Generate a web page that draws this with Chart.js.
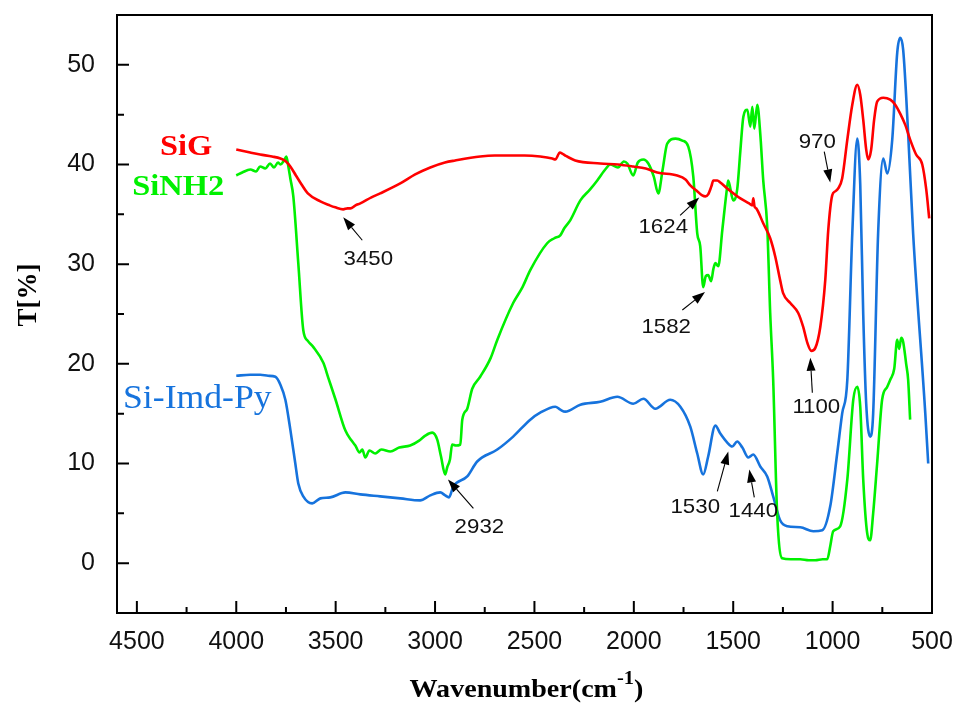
<!DOCTYPE html>
<html>
<head>
<meta charset="utf-8">
<title>FTIR spectra</title>
<script src="https://cdn.jsdelivr.net/npm/chart.js@4.4.1/dist/chart.umd.min.js"></script>
<style>
  html, body { margin: 0; padding: 0; background: #fff; }
  canvas { display: block; }
</style>
</head>
<body>
<canvas id="ftir" width="957" height="706"></canvas>
<script>
// --- Spectra (wavenumber in cm-1, transmittance in %) ---
const sigWave = [4000, 3930, 3880, 3820, 3778, 3750, 3728, 3700, 3678, 3640, 3577, 3530, 3502, 3462, 3440, 3426, 3400, 3376, 3320, 3276,
  3175, 3100, 3024, 2950, 2899, 2773, 2700, 2622, 2550, 2471, 2410, 2395, 2372, 2360, 2345, 2295, 2169, 2080, 2003, 1940, 1882, 1782,
  1740, 1716, 1680, 1656, 1640, 1626, 1610, 1600, 1580, 1565, 1530, 1464, 1420, 1404, 1399, 1393, 1384, 1349, 1314, 1289, 1264, 1249,
  1213, 1173, 1148, 1127, 1107, 1087, 1062, 1037, 1022, 1002, 987, 972, 952, 926, 901, 876, 861, 846, 831, 821, 806, 791, 776, 745,
  710, 685, 660, 635, 610, 580, 549, 529, 514];
const sigT = [41.5, 41.2, 41.0, 40.8, 40.6, 40.3, 39.8, 38.9, 38.2, 37.1, 36.3, 35.9, 35.7, 35.5, 35.6, 35.6, 35.9, 36.1, 36.7, 37.1,
  38.1, 39.0, 39.7, 40.2, 40.4, 40.8, 40.9, 40.9, 40.9, 40.8, 40.6, 40.5, 41.2, 41.1, 40.9, 40.4, 40.1, 40.0, 39.8, 39.6, 39.2, 38.9,
  38.5, 37.9, 37.3, 36.9, 36.8, 37.0, 37.8, 38.4, 38.4, 38.2, 37.6, 36.6, 36.1, 35.9, 36.6, 35.8, 35.6, 34.1, 32.6, 30.8, 28.4, 27.1,
  26.1, 25.1, 23.7, 22.1, 21.3, 21.6, 23.7, 28.4, 33.4, 36.9, 37.3, 37.6, 38.6, 42.5, 46.0, 48.0, 47.0, 44.5, 41.5, 40.5, 41.5, 44.5,
  46.3, 46.7, 46.5, 46.0, 45.1, 44.0, 42.5, 41.0, 40.0, 37.5, 34.6];

const sinh2Wave = [4000, 3970, 3929, 3900, 3880, 3854, 3830, 3810, 3790, 3778, 3760, 3748, 3738, 3728, 3713, 3688, 3663, 3640, 3613,
  3562, 3537, 3502, 3451, 3420, 3401, 3380, 3366, 3351, 3330, 3301, 3270, 3225, 3180, 3125, 3080, 3049, 3014, 2989, 2970, 2949, 2939,
  2925, 2914, 2895, 2873, 2863, 2838, 2813, 2773, 2720, 2687, 2607, 2560, 2521, 2436, 2400, 2370, 2350, 2320, 2269, 2220, 2184, 2140,
  2119, 2080, 2050, 2033, 2003, 1980, 1952, 1927, 1900, 1877, 1855, 1832, 1790, 1756, 1726, 1701, 1681, 1666, 1651, 1638, 1626, 1611,
  1600, 1590, 1575, 1555, 1530, 1525, 1500, 1480, 1464, 1449, 1429, 1414, 1404, 1394, 1379, 1364, 1349, 1329, 1314, 1299, 1279, 1254,
  1210, 1163, 1120, 1087, 1050, 1027, 1012, 997, 962, 926, 896, 876, 861, 846, 826, 811, 796, 776, 751, 725, 710, 690, 675, 665, 655,
  645, 630, 620, 610];
const sinh2T = [38.9, 39.2, 39.5, 39.3, 39.8, 39.6, 40.1, 39.7, 40.2, 40.0, 40.4, 40.8, 39.8, 38.6, 36.8, 30.1, 23.4, 22.3, 21.7,
  20.1, 18.6, 16.5, 13.3, 12.3, 11.8, 11.1, 11.4, 10.6, 11.3, 11.0, 11.4, 11.2, 11.6, 11.8, 12.3, 12.8, 13.1, 12.4, 10.7, 8.9, 9.6,
  10.4, 11.9, 11.8, 11.9, 14.4, 15.5, 17.5, 18.7, 20.6, 22.4, 26.1, 27.7, 29.4, 32.1, 32.6, 32.9, 33.6, 34.4, 36.4, 37.5, 38.4, 39.6,
  40.0, 39.7, 40.3, 40.1, 38.9, 40.2, 40.5, 40.1, 38.8, 37.1, 39.5, 42.1, 42.6, 42.4, 41.8, 38.8, 33.1, 31.8, 27.7, 28.8, 28.9, 28.3,
  29.5, 30.1, 29.8, 33.4, 37.8, 38.4, 36.4, 37.5, 41.4, 44.8, 45.5, 43.8, 45.8, 43.6, 46.0, 43.1, 38.4, 33.8, 25.1, 18.4, 5.0, 0.5,
  0.4, 0.4, 0.3, 0.3, 0.4, 0.4, 1.7, 3.2, 3.7, 8.4, 16.4, 17.7, 15.7, 8.4, 3.0, 2.3, 5.0, 10.0, 16.4, 17.7, 18.4, 19.5, 22.4, 21.5,
  22.6, 22.2, 20.0, 18.4, 14.4];

const imdWave = [4000, 3930, 3879, 3840, 3803, 3778, 3753, 3728, 3703, 3688, 3663, 3618, 3577, 3527, 3451, 3376, 3276, 3175, 3075,
  3024, 2974, 2949, 2930, 2908, 2838, 2788, 2687, 2607, 2521, 2471, 2395, 2370, 2345, 2269, 2169, 2083, 2003, 1952, 1892, 1817, 1766,
  1716, 1681, 1651, 1626, 1590, 1565, 1530, 1505, 1480, 1454, 1424, 1399, 1364, 1329, 1299, 1264, 1228, 1163, 1097, 1052, 1012, 977,
  952, 926, 901, 876, 861, 846, 831, 811, 796, 771, 745, 725, 700, 675, 660, 645, 620, 595, 534, 519];
const imdT = [18.8, 18.9, 18.9, 18.8, 18.7, 17.9, 16.4, 13.4, 10.0, 8.0, 6.7, 6.0, 6.5, 6.6, 7.1, 6.9, 6.7, 6.5, 6.3,
  6.8, 7.1, 6.8, 6.6, 7.7, 8.7, 10.2, 11.4, 12.7, 14.4, 15.1, 15.7, 15.4, 15.2, 15.9, 16.2, 16.7, 16.0, 16.5, 15.5, 16.4, 15.7,
  13.7, 11.0, 8.9, 10.7, 13.8, 13.0, 12.1, 11.7, 12.2, 11.6, 10.6, 10.9, 9.7, 8.7, 6.7, 4.3, 3.7, 3.6, 3.2, 3.3, 5.7, 11.0,
  15.0, 18.4, 33.1, 42.6, 38.0, 25.0, 16.0, 12.7, 15.0, 33.1, 40.6, 39.1, 42.5, 51.2, 52.7, 51.5, 43.1, 33.1, 15.1, 10.0];

// --- Axes ---
const xTicks = [4500, 4000, 3500, 3000, 2500, 2000, 1500, 1000, 500];
const xMinorTicks = [4250, 3750, 3250, 2750, 2250, 1750, 1250, 750];
const yTicks = [0, 10, 20, 30, 40, 50];
const yMinorTicks = [-5, 5, 15, 25, 35, 45];

// --- Peak annotations: label, text anchor, arrow tail, arrow tip (data units) ---
const peakLabels = ['3450', '2932', '1624', '1582', '1100', '970', '1530', '1440'];
const peakText = [[3336, 29.9], [2777, 3.0], [1852, 33.1], [1837, 23.1], [1082, 15.1], [1077, 41.7], [1691, 5.0], [1399, 4.6]];
const peakTail = [[3366, 32.4], [2807, 5.5], [1767, 34.9], [1756, 25.4], [1102, 17.1], [1042, 41.3], [1580, 7.2], [1394, 6.6]];
const peakTip = [[3462, 34.7], [2935, 8.4], [1671, 36.7], [1642, 27.2], [1112, 20.6], [1012, 38.2], [1525, 11.2], [1419, 9.4]];

// --- Series names written on the plot ---
const seriesNames = ['SiG', 'SiNH2', 'Si-Imd-Py'];
const seriesColors = ['#ff0000', '#00f000', '#1673dd'];
const seriesNamePos = [[4252, 41.0], [4292, 36.9], [4196, 15.6]];

function toPoints(xs, ys) {
  return xs.map((v, i) => ({ x: v, y: ys[i] }));
}

function stretchText(ctx, text, px, py, font, color, align, sx) {
  ctx.save();
  ctx.translate(px, py);
  ctx.scale(sx, 1);
  ctx.font = font;
  ctx.fillStyle = color;
  ctx.textAlign = align;
  ctx.textBaseline = 'alphabetic';
  ctx.fillText(text, 0, 0);
  ctx.restore();
}

function drawArrow(ctx, x0, y0, x1, y1) {
  const ang = Math.atan2(y1 - y0, x1 - x0);
  const len = 13, half = 4.5;
  const bx = x1 - len * Math.cos(ang), by = y1 - len * Math.sin(ang);
  ctx.beginPath();
  ctx.moveTo(x0, y0);
  ctx.lineTo(bx, by);
  ctx.strokeStyle = '#000';
  ctx.lineWidth = 1.1;
  ctx.stroke();
  ctx.beginPath();
  ctx.moveTo(x1, y1);
  ctx.lineTo(bx + half * Math.sin(ang), by - half * Math.cos(ang));
  ctx.lineTo(bx - half * Math.sin(ang), by + half * Math.cos(ang));
  ctx.closePath();
  ctx.fillStyle = '#000';
  ctx.fill();
}

// Frame, inward ticks, annotations and axis titles
const ftirDecor = {
  id: 'ftirDecor',
  afterDraw(chart) {
    const { ctx, chartArea: a, scales: { x, y } } = chart;
    ctx.save();

    ctx.strokeStyle = '#000';
    ctx.lineWidth = 2;
    ctx.strokeRect(a.left, a.top, a.right - a.left, a.bottom - a.top);

    ctx.lineWidth = 2;
    ctx.beginPath();
    xTicks.forEach(t => { const px = x.getPixelForValue(t); ctx.moveTo(px, a.bottom); ctx.lineTo(px, a.bottom - 12); });
    xMinorTicks.forEach(t => { const px = x.getPixelForValue(t); ctx.moveTo(px, a.bottom); ctx.lineTo(px, a.bottom - 6); });
    yTicks.forEach(t => { const py = y.getPixelForValue(t); ctx.moveTo(a.left, py); ctx.lineTo(a.left + 12, py); });
    yMinorTicks.forEach(t => { const py = y.getPixelForValue(t); ctx.moveTo(a.left, py); ctx.lineTo(a.left + 7, py); });
    ctx.stroke();

    peakLabels.forEach((lab, i) => {
      drawArrow(ctx,
        x.getPixelForValue(peakTail[i][0]), y.getPixelForValue(peakTail[i][1]),
        x.getPixelForValue(peakTip[i][0]), y.getPixelForValue(peakTip[i][1]));
      stretchText(ctx, lab, x.getPixelForValue(peakText[i][0]), y.getPixelForValue(peakText[i][1]),
        '21px "Liberation Sans", Arial, sans-serif', '#111', 'center', 1.06);
    });

    seriesNames.forEach((name, i) => {
      const font = i < 2 ? 'bold 30px "Liberation Serif", "Times New Roman", serif'
                         : '33px "Liberation Serif", "Times New Roman", serif';
      stretchText(ctx, name, x.getPixelForValue(seriesNamePos[i][0]), y.getPixelForValue(seriesNamePos[i][1]),
        font, seriesColors[i], 'center', 1.08);
    });

    // x title with superscript
    const serifBold = '"Liberation Serif", "Times New Roman", serif';
    ctx.font = 'bold 26px ' + serifBold;
    const w1 = ctx.measureText('Wavenumber(cm').width;
    const w3 = ctx.measureText(')').width;
    ctx.font = 'bold 19px ' + serifBold;
    const w2 = ctx.measureText('-1').width;
    const sx = 1.08;
    const total = (w1 + w2 + w3) * sx;
    let cx = (a.left + a.right) / 2 - total / 2 + 2;
    const base = 697;
    stretchText(ctx, 'Wavenumber(cm', cx, base, 'bold 26px ' + serifBold, '#000', 'left', sx);
    cx += w1 * sx;
    stretchText(ctx, '-1', cx, base - 13, 'bold 19px ' + serifBold, '#000', 'left', sx);
    cx += w2 * sx;
    stretchText(ctx, ')', cx, base, 'bold 26px ' + serifBold, '#000', 'left', sx);

    // y title
    ctx.save();
    ctx.translate(36, (a.top + a.bottom) / 2 - 19);
    ctx.rotate(-Math.PI / 2);
    ctx.font = 'bold 27px ' + serifBold;
    ctx.fillStyle = '#000';
    ctx.textAlign = 'center';
    ctx.textBaseline = 'alphabetic';
    ctx.fillText('T[%]', 0, 0);
    ctx.restore();

    ctx.restore();
  }
};

const lineStyle = {
  borderWidth: 2.6,
  pointRadius: 0,
  fill: false,
  cubicInterpolationMode: 'monotone'
};

const tickFont = { family: '"Liberation Sans", Arial, sans-serif', size: 25 };

new Chart(document.getElementById('ftir'), {
  type: 'line',
  data: {
    datasets: [
      { label: seriesNames[0], data: toPoints(sigWave, sigT), borderColor: seriesColors[0], ...lineStyle },
      { label: seriesNames[1], data: toPoints(sinh2Wave, sinh2T), borderColor: seriesColors[1], ...lineStyle },
      { label: seriesNames[2], data: toPoints(imdWave, imdT), borderColor: seriesColors[2], ...lineStyle }
    ]
  },
  options: {
    responsive: false,
    animation: false,
    layout: { padding: { top: 15, right: 25, left: 0, bottom: 0 } },
    plugins: { legend: { display: false }, tooltip: { enabled: false } },
    scales: {
      x: {
        type: 'linear',
        reverse: true,
        min: 500,
        max: 4600,
        afterBuildTicks: s => { s.ticks = xTicks.map(v => ({ value: v })); },
        afterFit: s => { s.height = 93; s.paddingLeft = 0; s.paddingRight = 0; },
        grid: { display: false },
        border: { display: false },
        ticks: {
          padding: 6,
          color: '#111',
          font: tickFont,
          maxRotation: 0,
          autoSkip: false,
          callback: v => String(v)
        }
      },
      y: {
        min: -5,
        max: 55,
        afterBuildTicks: s => { s.ticks = yTicks.map(v => ({ value: v })); },
        afterFit: s => { s.width = 117; s.paddingTop = 0; s.paddingBottom = 0; },
        grid: { display: false },
        border: { display: false },
        ticks: {
          padding: 14,
          color: '#111',
          font: tickFont,
          callback: v => String(v)
        }
      }
    }
  },
  plugins: [ftirDecor]
});
</script>
</body>
</html>
